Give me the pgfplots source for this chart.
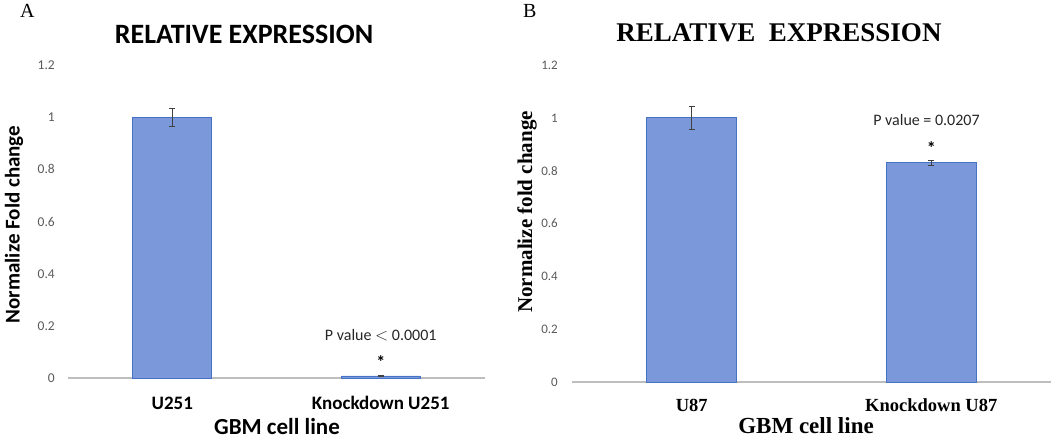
\documentclass[border=0pt]{standalone}
\usepackage{pgfplots}
\pgfplotsset{compat=1.18}
\usepackage{fontspec}
\setmainfont{Carlito}
\newfontfamily\tms{Liberation Serif}
\newfontfamily\clb{Carlito}
\definecolor{barfill}{RGB}{122,152,218}
\definecolor{baredge}{RGB}{68,114,196}
\definecolor{tickgray}{RGB}{89,89,89}
\definecolor{axgray}{RGB}{190,190,190}
\begin{document}
\begin{tikzpicture}
\path[use as bounding box] (0pt,0pt) rectangle (1051pt,-440pt);
\pgfplotsset{
  every axis/.append style={
    scale only axis,
    ymin=0, ymax=1.2,
    xmin=-0.5, xmax=1.5,
    xtick={0,1},
    ytick={0,0.2,0.4,0.6,0.8,1,1.2},
    yticklabels={0,0.2,0.4,0.6,0.8,1,1.2},
    axis x line*=bottom, axis y line*=left,
    y axis line style={draw=none},
    x axis line style={draw=axgray, line width=1.3pt},
    major tick length=0pt,
    yticklabel style={anchor=east, inner sep=0pt, xshift=-13pt, text=tickgray, font=\clb\fontsize{13.5}{13.5}\selectfont},
    xticklabel style={anchor=center, inner sep=0pt},
    /pgf/number format/assume math mode=true,
    clip=false,
  }
}
% Panel A
\begin{axis}[
  at={(68pt,-378pt)}, anchor=south west,
  width=417pt, height=313pt,
  xticklabels={U251,Knockdown U251},
  xticklabel style={yshift=-25pt, font=\clb\bfseries\fontsize{19}{19}\selectfont},
]
\addplot[ybar, bar width=79pt, fill=barfill, draw=baredge, line width=0.8pt,
  error bars/.cd, y dir=both, y explicit,
  error bar style={line width=0.9pt, color=black!75},
  error mark options={rotate=90, mark size=3pt, line width=0.9pt, color=black!75}]
  coordinates {(0,1) +- (0,0.034) (1,0.008) +- (0,0.002)};
\node[font=\clb\fontsize{16}{16}\selectfont, text=black!85] at (axis cs:1,0.165) {P value $<$ 0.0001};
\node[font=\clb\bfseries\fontsize{18}{18}\selectfont] at (axis cs:1,0.062) {*};
\end{axis}
% Panel B
\begin{axis}[
  at={(572pt,-382pt)}, anchor=south west,
  width=479pt, height=317pt,
  xticklabels={U87,Knockdown U87},
  xticklabel style={yshift=-23pt, font=\tms\bfseries\fontsize{18.5}{18.5}\selectfont},
  yticklabel style={xshift=-1pt, font=\clb\fontsize{13}{13}\selectfont},
]
\addplot[ybar, bar width=90pt, fill=barfill, draw=baredge, line width=0.8pt,
  error bars/.cd, y dir=both, y explicit,
  error bar style={line width=0.9pt, color=black!75},
  error mark options={rotate=90, mark size=3pt, line width=0.9pt, color=black!75}]
  coordinates {(0,1) +- (0,0.045) (1,0.83) +- (0,0.01)};
\node[font=\clb\fontsize{16}{16}\selectfont, text=black!85] at (axis cs:0.98,0.99) {P value = 0.0207};
\node[font=\clb\bfseries\fontsize{18}{18}\selectfont] at (axis cs:1,0.885) {*};
\end{axis}
% Panel letters and titles
\node[font=\tms\fontsize{20}{20}\selectfont, anchor=north west, inner sep=0pt] at (20pt,-4pt) {A};
\node[font=\tms\fontsize{20}{20}\selectfont, anchor=north west, inner sep=0pt] at (523pt,-4pt) {B};
\node[font=\clb\bfseries\fontsize{28}{28}\selectfont] at (244pt,-34pt) {RELATIVE EXPRESSION};
\node[font=\tms\bfseries\fontsize{27}{27}\selectfont] at (779pt,-33pt) {RELATIVE\ \ EXPRESSION};
% axis labels
\node[font=\clb\bfseries\fontsize{21}{21}\selectfont, rotate=90] at (14pt,-224.5pt) {Normalize Fold change};
\node[font=\tms\bfseries\fontsize{21}{21}\selectfont, rotate=90] at (527pt,-212pt) {Normalize fold change};
\node[font=\clb\bfseries\fontsize{23}{23}\selectfont] at (277pt,-427pt) {GBM cell line};
\node[font=\tms\bfseries\fontsize{23}{23}\selectfont] at (806pt,-426pt) {GBM cell line};
\end{tikzpicture}
\end{document}
